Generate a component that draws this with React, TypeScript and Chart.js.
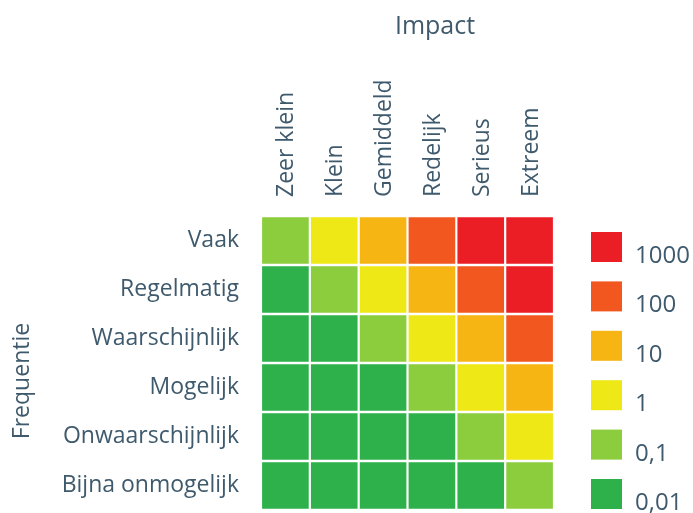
import React, { useEffect, useRef } from "react";
import { Chart, registerables } from "chart.js";

Chart.register(...registerables);

// Impact columns (left to right) and frequency rows (top to bottom)
const impactLabels = ["Zeer klein", "Klein", "Gemiddeld", "Redelijk", "Serieus", "Extreem"];
const frequencyLabels = [
  "Vaak",
  "Regelmatig",
  "Waarschijnlijk",
  "Mogelijk",
  "Onwaarschijnlijk",
  "Bijna onmogelijk",
];

// Risk scale: levels, their printed labels and colours (highest first)
const riskLevels = [1000, 100, 10, 1, 0.1, 0.01];
const riskLevelLabels = ["1000", "100", "10", "1", "0,1", "0,01"];
const riskColors = ["#EB1D25", "#F1571F", "#F7B514", "#EEE816", "#8CCD3E", "#2EB14B"];

// Risk per frequency row, one value per impact column
const riskVaak = [0.1, 1, 10, 100, 1000, 1000];
const riskRegelmatig = [0.01, 0.1, 1, 10, 100, 1000];
const riskWaarschijnlijk = [0.01, 0.01, 0.1, 1, 10, 100];
const riskMogelijk = [0.01, 0.01, 0.01, 0.1, 1, 10];
const riskOnwaarschijnlijk = [0.01, 0.01, 0.01, 0.01, 0.1, 1];
const riskBijnaOnmogelijk = [0.01, 0.01, 0.01, 0.01, 0.01, 0.1];

const riskRows = [
  riskVaak,
  riskRegelmatig,
  riskWaarschijnlijk,
  riskMogelijk,
  riskOnwaarschijnlijk,
  riskBijnaOnmogelijk,
];

const TEXT_COLOR = "#3F5A6D";
const FONT_FAMILY = "'Open Sans', 'DejaVu Sans', sans-serif";

const colorForRisk = (risk: number) => riskColors[riskLevels.indexOf(risk)];

// Titles and the colour key drawn around the matrix
const decorPlugin = {
  id: "riskDecor",
  afterDraw(chart: any) {
    const { ctx, chartArea } = chart;
    if (!chartArea) return;
    ctx.save();
    ctx.fillStyle = TEXT_COLOR;

    // "Impact" title above the column labels
    ctx.font = `25px ${FONT_FAMILY}`;
    ctx.textAlign = "center";
    ctx.textBaseline = "alphabetic";
    ctx.fillText("Impact", chartArea.left + 174, 34);

    // "Frequentie" title, rotated, left of the row labels
    ctx.font = `23px ${FONT_FAMILY}`;
    ctx.save();
    ctx.translate(29, chartArea.top + 165);
    ctx.rotate(-Math.PI / 2);
    ctx.textAlign = "center";
    ctx.fillText("Frequentie", 0, 0);
    ctx.restore();

    // Colour key
    const keyX = chartArea.right + 37;
    const keyTop = chartArea.top + 16;
    const step = 49.4;
    const boxW = 31;
    const boxH = 30;
    ctx.font = `24px ${FONT_FAMILY}`;
    ctx.textAlign = "left";
    ctx.textBaseline = "alphabetic";
    riskLevels.forEach((_, i) => {
      const y = keyTop + i * step;
      ctx.fillStyle = riskColors[i];
      ctx.fillRect(keyX, y, boxW, boxH);
      ctx.fillStyle = TEXT_COLOR;
      ctx.fillText(riskLevelLabels[i], keyX + boxW + 13, y + boxH + 1);
    });
    ctx.restore();
  },
};

// Square cell size from the category spacing of both axes
const cellRadius = (ctx: any) => {
  const area = ctx.chart.chartArea;
  if (!area) return 0;
  const pitchX = area.width / impactLabels.length;
  const pitchY = area.height / frequencyLabels.length;
  return (Math.min(pitchX, pitchY) - 2.2) / Math.SQRT2;
};

export default function App() {
  const canvasRef = useRef<HTMLCanvasElement>(null);

  useEffect(() => {
    const canvas = canvasRef.current;
    if (!canvas) return;

    const datasets = riskRows.map((row, r) => ({
      label: frequencyLabels[r],
      data: row.map((risk, c) => ({ x: impactLabels[c], y: frequencyLabels[r], risk })),
      backgroundColor: row.map(colorForRisk),
      borderWidth: 0,
      pointStyle: "rect" as const,
      pointRadius: cellRadius,
      pointHoverRadius: cellRadius,
    }));

    const tickFont = { family: FONT_FAMILY, size: 23 };

    const chart = new Chart(canvas, {
      type: "scatter",
      data: { datasets },
      options: {
        animation: false,
        responsive: true,
        maintainAspectRatio: false,
        events: [],
        layout: { padding: { left: 0, top: 0, right: 139, bottom: 3 } },
        plugins: {
          legend: { display: false },
          tooltip: { enabled: false },
        },
        scales: {
          x: {
            type: "category",
            labels: impactLabels,
            position: "top",
            offset: true,
            grid: { display: false, drawTicks: false },
            border: { display: false },
            ticks: {
              font: tickFont,
              color: TEXT_COLOR,
              minRotation: 90,
              maxRotation: 90,
              autoSkip: false,
              padding: 19,
              labelOffset: 29,
            },
            afterFit: (scale: any) => {
              scale.height = 216;
              scale.paddingLeft = 0;
              scale.paddingRight = 0;
              scale.paddingTop = 0;
              scale.paddingBottom = 0;
            },
          },
          y: {
            type: "category",
            labels: frequencyLabels,
            offset: true,
            grid: { display: false, drawTicks: false },
            border: { display: false },
            ticks: {
              font: tickFont,
              color: TEXT_COLOR,
              autoSkip: false,
              padding: 22,
            },
            afterFit: (scale: any) => {
              scale.width = 261;
              scale.paddingLeft = 0;
              scale.paddingRight = 0;
              scale.paddingTop = 0;
              scale.paddingBottom = 0;
            },
          },
        },
      },
      plugins: [decorPlugin],
    });

    return () => chart.destroy();
  }, []);

  return (
    <div
      style={{
        position: "fixed",
        left: 0,
        top: 0,
        width: 693,
        height: 513,
        background: "#ffffff",
      }}
    >
      <canvas ref={canvasRef} />
    </div>
  );
}
